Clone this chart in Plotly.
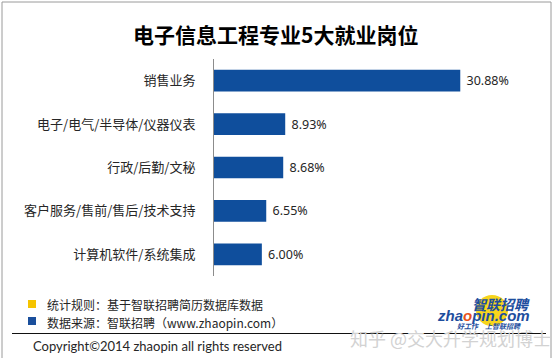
import plotly.graph_objects as go

categories = ["销售业务", "电子/电气/半导体/仪器仪表", "行政/后勤/文秘", "客户服务/售前/售后/技术支持", "计算机软件/系统集成"]
values = [30.88, 8.93, 8.68, 6.55, 6.00]
value_labels = ["30.88%", "8.93%", "8.68%", "6.55%", "6.00%"]

W, H = 557, 360
L, R, T, B = 214, 24, 59, 84
PW, PH = W - L - R, H - T - B

def px(x):
    return (x - L) / PW

def py(y):
    return 1 - (y - T) / PH

CJK = "Noto Sans CJK SC"

fig = go.Figure(go.Bar(
    x=values, y=categories, orientation="h",
    width=0.5,
    marker=dict(color="#0F4E9C", line=dict(width=0)),
    text=["\u00a0" + s for s in value_labels], textposition="outside",
    textfont=dict(family="Noto Sans", size=12.5, color="#262626"),
    cliponaxis=False,
))

fig.update_layout(
    width=W, height=H,
    margin=dict(l=L, r=R, t=T, b=B, pad=0),
    paper_bgcolor="white", plot_bgcolor="white",
    showlegend=False,
    bargap=0.5,
    xaxis=dict(range=[0, 40], visible=False, fixedrange=True),
    yaxis=dict(categoryorder="array", categoryarray=categories[::-1],
               showline=True, linecolor="#8c8c8c", linewidth=1,
               ticks="", showgrid=False, zeroline=False, fixedrange=True,
               tickfont=dict(family=CJK, size=13, color="#262626"),
               ticklabelstandoff=15),
)

ann = []
def text(x, y, s, size, color="#262626", family=CJK, xanchor="left", **kw):
    ann.append(dict(x=px(x), y=py(y), xref="paper", yref="paper", text=s,
                    showarrow=False, xanchor=xanchor, yanchor="middle",
                    font=dict(family=family, size=size, color=color), **kw))

# title
text(275, 34, "<b>电子信息工程专业5大就业岗位</b>", 21, color="#000000", xanchor="center")
# footer notes
text(45, 304, "统计规则：基于智联招聘简历数据库数据", 12)
text(45, 322, "数据来源：智联招聘（www.zhaopin.com）", 12)
text(31, 346, "Copyright©2014 zhaopin all rights reserved", 13, family="Lato")
# watermark
text(450, 338, "知乎 @交大升学规划博士", 18, color="#d2d2d2", xanchor="center")
# logo
text(532, 304, "<b><i>智联招聘</i></b>", 14, color="#1d4e9e", xanchor="right")
text(532, 315.5, "<b><i>zha<span style='color:#e8541c'>o</span>pin.com</i></b>", 15,
     color="#1d4e9e", family="Liberation Sans", xanchor="right")
text(489, 325.5, "<b><i>好工作　上智联招聘</i></b>", 7, color="#1d4e9e", xanchor="center")
fig.update_layout(annotations=ann)

shapes = []
# frame
shapes.append(dict(type="line", xref="paper", yref="paper", x0=px(2), x1=px(2), y0=py(2), y1=py(358),
                   line=dict(color="#9a9a9a", width=1)))
shapes.append(dict(type="line", xref="paper", yref="paper", x0=px(2), x1=px(551), y0=py(2), y1=py(2),
                   line=dict(color="#9a9a9a", width=1)))
shapes.append(dict(type="line", xref="paper", yref="paper", x0=px(551), x1=px(551), y0=py(2), y1=py(358),
                   line=dict(color="#9a9a9a", width=1)))
# footer rule
shapes.append(dict(type="line", xref="paper", yref="paper", x0=px(12), x1=px(546), y0=py(333.5), y1=py(333.5),
                   line=dict(color="#111111", width=1)))
# legend squares
shapes.append(dict(type="rect", xref="paper", yref="paper", x0=px(28), x1=px(36), y0=py(300), y1=py(308),
                   fillcolor="#f5c400", line=dict(width=0)))
shapes.append(dict(type="rect", xref="paper", yref="paper", x0=px(28), x1=px(36), y0=py(317), y1=py(325),
                   fillcolor="#1a4f9c", line=dict(width=0)))
# logo blob
shapes.append(dict(type="circle", xref="paper", yref="paper", x0=px(476), x1=px(508), y0=py(295), y1=py(326),
                   fillcolor="#f7d51c", line=dict(width=0), layer="below"))
fig.update_layout(shapes=shapes)

fig.write_html("out.html", config={"displayModeBar": False},
               post_script="document.body.style.margin='0';")
